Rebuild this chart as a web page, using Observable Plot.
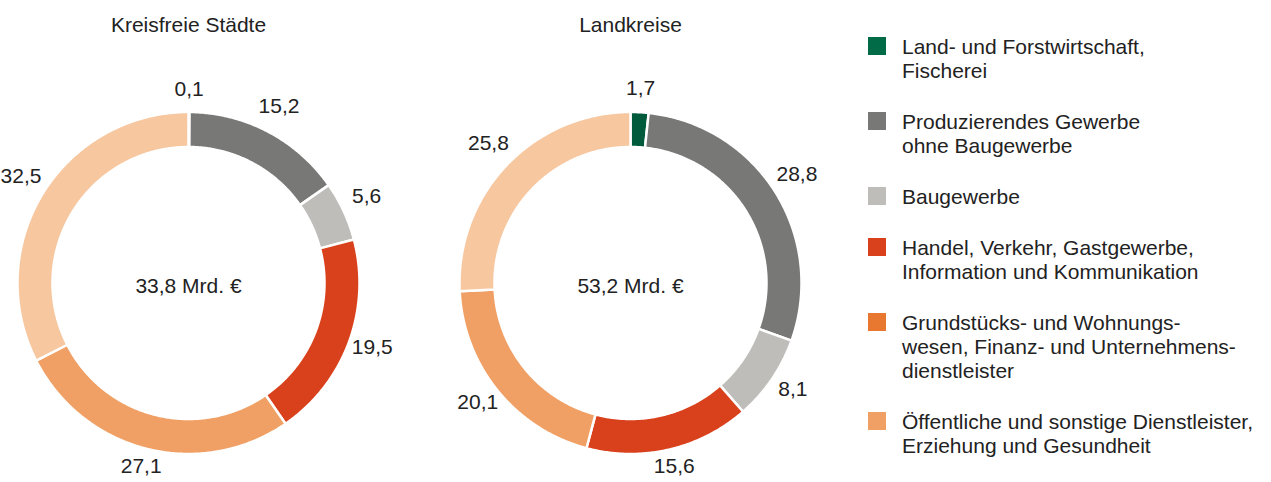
<!DOCTYPE html>
<html><head><meta charset="utf-8">
<script src="https://cdn.jsdelivr.net/npm/d3@7"></script>
<script src="https://cdn.jsdelivr.net/npm/@observablehq/plot@0.6"></script>
<style>
body{margin:0;background:#fff;font-family:"Liberation Sans",Arial,sans-serif;color:#222;}
#wrap{position:relative;width:1271px;height:482px;overflow:hidden;}
#chart{position:absolute;left:0;top:0;}
#legend{position:absolute;left:868px;top:35px;}
.item{display:flex;align-items:flex-start;margin-bottom:27px;}
.sw{width:18px;height:18px;margin-top:2px;margin-right:16px;flex:none;}
.lbl{font-size:21px;line-height:24px;color:#222;}
</style></head><body>
<div id="wrap"><div id="chart"></div><div id="legend"></div></div>
<script>
// ---- data ----
const regions = ["Kreisfreie Städte", "Landkreise"];
const totals = ["33,8 Mrd. €", "53,2 Mrd. €"];
const sectors = [
  "Land- und Forstwirtschaft, Fischerei",
  "Produzierendes Gewerbe ohne Baugewerbe",
  "Baugewerbe",
  "Handel, Verkehr, Gastgewerbe, Information und Kommunikation",
  "Grundstücks- und Wohnungswesen, Finanz- und Unternehmensdienstleister",
  "Öffentliche und sonstige Dienstleister, Erziehung und Gesundheit"
];
const valuesKreisfrei = [0.1, 15.2, 5.6, 19.5, 27.1, 32.5];
const valuesLandkreise = [1.7, 28.8, 8.1, 15.6, 20.1, 25.8];
const sliceColors = ["#005B3D", "#787876", "#BEBDB9", "#D9411C", "#F0A065", "#F7C7A0"];
const legendColors = ["#006B46", "#787876", "#BEBDB9", "#D9411C", "#E87830", "#F0A065"];
const legendLines = [
  ["Land- und Forstwirtschaft,", "Fischerei"],
  ["Produzierendes Gewerbe", "ohne Baugewerbe"],
  ["Baugewerbe"],
  ["Handel, Verkehr, Gastgewerbe,", "Information und Kommunikation"],
  ["Grundstücks- und Wohnungs-", "wesen, Finanz- und Unternehmens-", "dienstleister"],
  ["Öffentliche und sonstige Dienstleister,", "Erziehung und Gesundheit"]
];

// ---- geometry (radius units: outer radius = 1) ----
const seriesByRegion = [valuesKreisfrei, valuesLandkreise];
const R_PX = 171, CY_PX = 282.5, HALF_W_PX = 188, H = 482, FACET_W = 376, GAP = 66, EXTRA_R = 30;
const inner = 136 / 171, outer = 1;
const fmt = v => v.toFixed(1).replace(".", ",");
// label distance from centre (px): a little further out at the sides, where labels are wide
const labelDist = a => (182 + 12 * Math.abs(Math.sin(a)) + 8 * Math.abs(Math.cos(a))) / R_PX;

const arcPts = [], labels = [];
regions.forEach((region, ri) => {
  const vals = seriesByRegion[ri];
  const total = d3.sum(vals);
  let acc = 0;
  vals.forEach((v, si) => {
    const a0 = acc / total * 2 * Math.PI, a1 = (acc + v) / total * 2 * Math.PI;
    acc += v;
    const n = Math.max(2, Math.ceil((a1 - a0) / (Math.PI / 360)));
    const key = region + "|" + si;
    for (let k = 0; k <= n; k++) {
      const a = a0 + (a1 - a0) * k / n;
      arcPts.push({region, key, sector: sectors[si], x: outer * Math.sin(a), y: outer * Math.cos(a)});
    }
    for (let k = n; k >= 0; k--) {
      const a = a0 + (a1 - a0) * k / n;
      arcPts.push({region, key, sector: sectors[si], x: inner * Math.sin(a), y: inner * Math.cos(a)});
    }
    const am = (a0 + a1) / 2, d = labelDist(am);
    labels.push({region, x: d * Math.sin(am), y: d * Math.cos(am), text: fmt(v)});
  });
});
const centers = regions.map((r, i) => ({region: r, total: totals[i]}));

const facetSpan = 2 * FACET_W + GAP;
const chart = Plot.plot({
  width: facetSpan + EXTRA_R, height: H, margin: 0,
  fx: {domain: regions, range: [0, facetSpan], paddingInner: GAP / (FACET_W + GAP), paddingOuter: 0, axis: null},
  x: {domain: [-HALF_W_PX / R_PX, HALF_W_PX / R_PX], axis: null},
  y: {domain: [-(H - CY_PX) / R_PX, CY_PX / R_PX], axis: null},
  color: {domain: sectors, range: sliceColors},
  style: {fontFamily: '"Liberation Sans", Arial, sans-serif', fontSize: "21px", color: "#222", background: "white", overflow: "visible"},
  marks: [
    Plot.line(arcPts, {fx: "region", x: "x", y: "y", z: "key", fill: "sector", stroke: "white", strokeWidth: 2.5, curve: "linear-closed"}),
    Plot.text(labels, {fx: "region", x: "x", y: "y", text: "text", fill: "#222", fontSize: 21, lineAnchor: "middle", dy: -4}),
    Plot.text(centers, {fx: "region", x: () => 0, y: () => 0, text: "total", fill: "#222", fontSize: 21, lineAnchor: "middle", dy: 3}),
    Plot.text(centers, {fx: "region", x: () => 0, frameAnchor: "top", text: "region", fill: "#222", fontSize: 21, lineAnchor: "middle", dy: 25})
  ]
});
document.getElementById("chart").appendChild(chart);

// ---- legend ----
const leg = document.getElementById("legend");
legendLines.forEach((lines, i) => {
  const item = document.createElement("div");
  item.className = "item";
  const sw = document.createElement("div");
  sw.className = "sw";
  sw.style.background = legendColors[i];
  const lbl = document.createElement("div");
  lbl.className = "lbl";
  lbl.innerHTML = lines.map(s => s.replace(/&/g, "&amp;")).join("<br>");
  item.appendChild(sw); item.appendChild(lbl);
  leg.appendChild(item);
});
</script>
</body></html>
